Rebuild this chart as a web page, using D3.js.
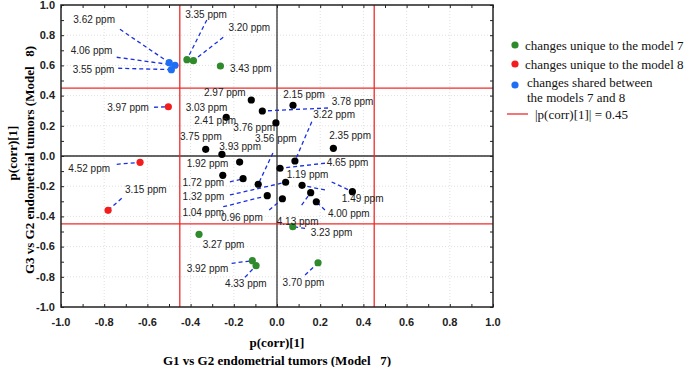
<!DOCTYPE html>
<html><head><meta charset="utf-8">
<script src="https://cdn.jsdelivr.net/npm/d3@7"></script>
<style>body{margin:0;background:#fff}svg{display:block}</style>
</head><body><svg id="c" width="685" height="367"></svg>
<script>
// ---- data ----
const ppmLabels = ["3.62","4.06","3.55","3.35","3.20","3.43","3.27","3.92","4.33","3.70","3.23","3.97","4.52","3.15",
  "2.97","3.78","2.41","3.76","3.75","3.93","1.92","2.15","2.35","3.22","4.65","3.03","1.72","3.56","1.04","1.32","1.19","1.49","4.13","0.96","4.00"];
const groups = ["shared","shared","shared","m7","m7","m7","m7","m7","m7","m7","m7","m8","m8","m8",
  "both","both","both","both","both","both","both","both","both","both","both","both","both","both","both","both","both","both","both","both","both"];
const pcorrModel7 = [-0.499,-0.472,-0.489,-0.417,-0.387,-0.262,-0.361,-0.114,-0.097,0.190,0.073,-0.503,-0.634,-0.782,
  -0.119,-0.068,-0.235,-0.005,-0.330,-0.255,-0.173,0.074,0.261,0.083,0.014,-0.251,-0.157,-0.087,-0.045,0.040,0.116,0.349,0.156,0.025,0.182];
const pcorrModel8 = [0.618,0.601,0.572,0.638,0.631,0.596,-0.519,-0.693,-0.726,-0.707,-0.468,0.326,-0.042,-0.360,
  0.371,0.298,0.256,0.219,0.044,0.011,-0.040,0.336,0.051,-0.033,-0.081,-0.128,-0.150,-0.187,-0.263,-0.174,-0.194,-0.236,-0.243,-0.283,-0.303];
// label anchors (data units)
const labelX = [-0.943,-0.955,-0.946,-0.425,-0.225,-0.218,-0.344,-0.418,-0.241,0.026,0.156,-0.786,-0.966,-0.704,
  -0.338,0.253,-0.383,-0.202,-0.449,-0.267,-0.418,0.029,0.242,0.168,0.230,-0.423,-0.438,-0.102,-0.438,-0.437,0.045,0.300,-0.001,-0.259,0.236];
const labelY = [0.901,0.697,0.576,0.940,0.852,0.581,-0.589,-0.744,-0.843,-0.836,-0.508,0.323,-0.086,-0.221,
  0.422,0.364,0.232,0.187,0.128,0.066,-0.048,0.409,0.139,0.272,-0.046,0.323,-0.174,0.117,-0.373,-0.270,-0.124,-0.280,-0.435,-0.409,-0.384];
// leader-line start points (data units), null = no leader
const leaderX = [-0.727,-0.742,-0.735,-0.325,-0.249,null,null,-0.210,-0.148,0.130,0.130,-0.569,-0.742,-0.719,
  null,0.236,null,null,null,null,null,null,null,0.161,0.222,null,-0.218,-0.019,-0.249,-0.218,0.222,0.253,0.114,-0.036,0.222];
const leaderY = [0.839,0.654,0.581,0.901,0.786,null,null,-0.711,-0.803,-0.788,-0.479,0.323,-0.055,-0.280,
  null,0.318,null,null,null,null,null,null,null,0.227,-0.048,null,-0.172,0.020,-0.336,-0.258,-0.225,-0.172,-0.325,-0.358,-0.358];
const thresholds = [-0.45, 0.45];
const majorTicks = [-1.0,-0.8,-0.6,-0.4,-0.2,0.0,0.2,0.4,0.6,0.8,1.0];
const minorTicks = [-1.0,-0.9,-0.8,-0.7,-0.6,-0.5,-0.4,-0.3,-0.2,-0.1,0.0,0.1,0.2,0.3,0.4,0.5,0.6,0.7,0.8,0.9,1.0];
const legendItems = [
  {key:"m7", lines:["changes unique to the model 7"]},
  {key:"m8", lines:["changes unique to the model 8"]},
  {key:"shared", lines:["changes shared between","the models 7 and 8"]}
];
const thresholdLegend = "|p(corr)[1]| = 0.45";

// ---- drawing ----
const colors = {m7:"#2f8a2c", m8:"#f41d1d", shared:"#1f6ff5", both:"#000"};
const svg = d3.select("#c");
const L=61, R=493, T=5, B=307;
const x = d3.scaleLinear().domain([-1,1]).range([L,R]);
const y = d3.scaleLinear().domain([-1,1]).range([B,T]);

// grid
const g = svg.append("g");
g.selectAll(".gx").data(majorTicks.slice(1,-1)).join("line")
  .attr("x1",d=>x(d)).attr("x2",d=>x(d)).attr("y1",T).attr("y2",B)
  .attr("stroke","#d8d8d8").attr("stroke-width",0.8).attr("stroke-dasharray","1,2");
g.selectAll(".gy").data(majorTicks.slice(1,-1)).join("line")
  .attr("y1",d=>y(d)).attr("y2",d=>y(d)).attr("x1",L).attr("x2",R)
  .attr("stroke","#d8d8d8").attr("stroke-width",0.8).attr("stroke-dasharray","1,2");

// zero lines
svg.append("line").attr("x1",x(0)).attr("x2",x(0)).attr("y1",T).attr("y2",B).attr("stroke","#333").attr("stroke-width",1.3);
svg.append("line").attr("y1",y(0)).attr("y2",y(0)).attr("x1",L).attr("x2",R).attr("stroke","#333").attr("stroke-width",1.3);
// threshold lines
svg.selectAll(".tv").data(thresholds).join("line")
  .attr("x1",d=>x(d)).attr("x2",d=>x(d)).attr("y1",T).attr("y2",B).attr("stroke","#ee2b2b").attr("stroke-width",1.3);
svg.selectAll(".th").data(thresholds).join("line")
  .attr("y1",d=>y(d)).attr("y2",d=>y(d)).attr("x1",L).attr("x2",R).attr("stroke","#ee2b2b").attr("stroke-width",1.3);

const pts = ppmLabels.map((p,i)=>({p, g:groups[i], x:pcorrModel7[i], y:pcorrModel8[i],
  lx:labelX[i], ly:labelY[i], ax:leaderX[i], ay:leaderY[i]}));

// leaders
svg.selectAll(".lead").data(pts.filter(d=>d.ax!==null)).join("line")
  .attr("x1",d=>x(d.ax)).attr("y1",d=>y(d.ay)).attr("x2",d=>x(d.x)).attr("y2",d=>y(d.y))
  .attr("stroke","#1a2fe0").attr("stroke-width",1.3).attr("stroke-dasharray","4,3");

// points
svg.selectAll(".pt").data(pts).join("circle")
  .attr("cx",d=>x(d.x)).attr("cy",d=>y(d.y)).attr("r",3.6).attr("fill",d=>colors[d.g]);

// labels
svg.selectAll(".lbl").data(pts).join("text")
  .attr("x",d=>x(d.lx)).attr("y",d=>y(d.ly)).attr("dy","0.35em")
  .attr("font-family","Liberation Sans, Arial, sans-serif").attr("font-size",10).attr("fill","#222")
  .text(d=>d.p+" ppm");

// axes ticks (inward)
const tk = (gen, tr) => svg.append("g").attr("transform",tr)
  .call(gen.tickValues(minorTicks).tickSize(-3).tickFormat(""))
  .call(s=>{s.select(".domain").remove(); s.selectAll("line").attr("stroke","#222");});
tk(d3.axisBottom(x), `translate(0,${B})`);
tk(d3.axisTop(x), `translate(0,${T})`);
tk(d3.axisLeft(y), `translate(${L},0)`);
tk(d3.axisRight(y), `translate(${R},0)`);

// frame
svg.append("rect").attr("x",L).attr("y",T).attr("width",R-L).attr("height",B-T)
  .attr("fill","none").attr("stroke","#222").attr("stroke-width",1.5);

// tick labels
const fmt = d => d.toFixed(1);
svg.selectAll(".xt").data(majorTicks).join("text")
  .attr("x",d=>x(d)).attr("y",322).attr("dy","0.35em").attr("text-anchor","middle")
  .attr("font-family","Liberation Sans, Arial, sans-serif").attr("font-weight","bold").attr("font-size",11).attr("fill","#222")
  .text(fmt);
svg.selectAll(".yt").data(majorTicks).join("text")
  .attr("x",55).attr("y",d=>y(d)).attr("dy","0.35em").attr("text-anchor","end")
  .attr("font-family","Liberation Sans, Arial, sans-serif").attr("font-weight","bold").attr("font-size",11).attr("fill","#222")
  .text(fmt);

// axis titles
const serif = "Liberation Serif, Times New Roman, serif";
svg.append("text").attr("x",277).attr("y",342).attr("dy","0.35em").attr("text-anchor","middle")
  .attr("font-family",serif).attr("font-weight","bold").attr("font-size",13).text("p(corr)[1]");
svg.append("text").attr("x",277).attr("y",360).attr("dy","0.35em").attr("text-anchor","middle")
  .attr("font-family",serif).attr("font-weight","bold").attr("font-size",13).attr("xml:space","preserve")
  .text("G1 vs G2 endometrial tumors (Model   7)");
svg.append("text").attr("transform","translate(12,153) rotate(-90)").attr("dy","0.35em").attr("text-anchor","middle")
  .attr("font-family",serif).attr("font-weight","bold").attr("font-size",13).text("p(corr)[1]");
svg.append("text").attr("transform","translate(29,160) rotate(-90)").attr("dy","0.35em").attr("text-anchor","middle")
  .attr("font-family",serif).attr("font-weight","bold").attr("font-size",13).attr("xml:space","preserve")
  .text("G3 vs G2 endometrial tumors (Model   8)");

// legend
const legY = [45, 64, 85];
legendItems.forEach((it,i)=>{
  svg.append("circle").attr("cx",515).attr("cy",legY[i]).attr("r",3.6).attr("fill",colors[it.key]);
  it.lines.forEach((t,j)=>{
    svg.append("text").attr("x",i===2?527:525).attr("y",legY[i]+(i===2?-3:0)+j*15).attr("dy","0.35em")
      .attr("font-family",serif).attr("font-size",13).attr("fill","#111").text(t);
  });
});
svg.append("line").attr("x1",507).attr("x2",528).attr("y1",114).attr("y2",114).attr("stroke","#ee2b2b").attr("stroke-width",1.3);
svg.append("text").attr("x",535).attr("y",114).attr("dy","0.35em")
  .attr("font-family",serif).attr("font-size",13).attr("fill","#111").text(thresholdLegend);
</script></body></html>
